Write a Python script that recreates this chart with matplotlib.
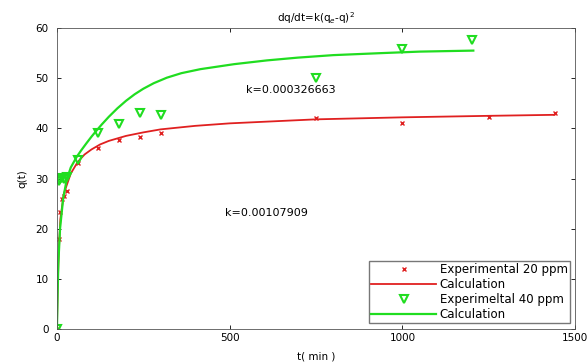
import numpy as np
import matplotlib
matplotlib.use('Agg')
import matplotlib.pyplot as plt

# experimental points
t_20 = [0, 5, 10, 15, 20, 30, 60, 120, 180, 240, 300, 750, 1000, 1250, 1440]
q_20 = [0, 18, 23.4, 26, 26.5, 27.5, 33, 36, 37.7, 38.2, 39.1, 42, 41, 42.2, 43.1]

t_40 = [0, 5, 10, 15, 20, 30, 60, 120, 180, 240, 300, 750, 1000, 1200]
q_40 = [0, 29.5, 30, 30.2, 30, 30.3, 33.7, 39, 40.9, 43, 42.6, 50, 55.9, 57.7]

# calculated curves
tc_20 = [0, 2, 5, 10, 20, 40, 60, 80, 100, 125, 150, 200, 250, 300, 400, 500,
         750, 1000, 1250, 1440]
qc_20 = [0, 8, 15, 22, 27, 31, 33.3, 34.8, 35.8, 36.8, 37.5, 38.5, 39.2, 39.8,
         40.5, 41, 41.8, 42.2, 42.5, 42.7]

tc_40 = [0, 2, 4, 9, 18, 28, 40, 57, 70, 85, 100, 115, 130, 150, 175, 200,
         225, 250, 280, 318, 360, 415, 513, 608, 697, 800, 939, 1050, 1205]
qc_40 = [0, 7, 13, 20, 26, 29.7, 32.2, 34.3, 35.6, 37.0, 38.35, 39.6, 40.8,
         42.3, 44.0, 45.5, 46.8, 47.9, 49.0, 50.1, 51.0, 51.8, 52.8, 53.55,
         54.1, 54.6, 55.0, 55.3, 55.5]

k_labels = ['k=0.00107909', 'k=0.000326663']

red = '#e02020'
green = '#20dd20'

fig = plt.figure(figsize=(5.87, 3.64), dpi=100)
ax = fig.add_axes([0.097, 0.096, 0.883, 0.827])

ax.plot(t_20, q_20, 'x', color=red, ms=3, mew=1, label='Experimental 20 ppm')
ax.plot(tc_20, qc_20, '-', color=red, lw=1.3, label='Calculation')
ax.plot(t_40, q_40, 'v', color=green, ms=6, mfc='none', mew=1.5,
        label='Experimeltal 40 ppm')
ax.plot(tc_40, qc_40, '-', color=green, lw=1.6, label='Calculation')

ax.text(676, 47.6, k_labels[1], fontsize=8, ha='center', va='center')
ax.text(606, 23.1, k_labels[0], fontsize=8, ha='center', va='center')

ax.set_xlim(0, 1500)
ax.set_ylim(0, 60)
ax.set_xticks([0, 500, 1000, 1500])
ax.set_yticks([0, 10, 20, 30, 40, 50, 60])
ax.tick_params(direction='in', top=True, right=True, labelsize=7.5,
               length=3, width=0.6)
ax.tick_params(axis='x', pad=3)
ax.tick_params(axis='y', pad=6)
for s in ax.spines.values():
    s.set_linewidth(0.6)
    s.set_color('#555555')

ax.set_xlabel('t( min )', fontsize=7.5, labelpad=6)
ax.set_ylabel('q(t)', fontsize=7.5, labelpad=6)
ax.set_title('dq/dt=k(q$_e$-q)$^2$', fontsize=7.5, pad=4)

ax.legend(loc='lower right', fontsize=8.5, frameon=True, fancybox=False,
          edgecolor='#555555', borderpad=0.2, labelspacing=0.15,
          handlelength=5.5, handletextpad=0.3, borderaxespad=0,
          bbox_to_anchor=(0.99, 0.02))

fig.savefig('out.png', dpi=100)
